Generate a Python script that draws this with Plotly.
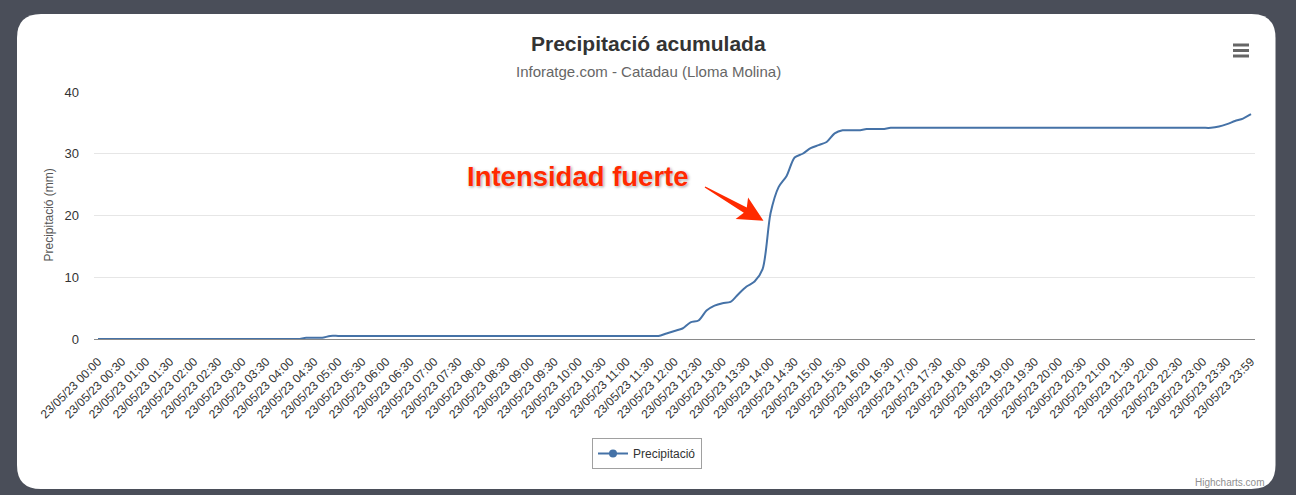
import plotly.graph_objects as go
import math

# ---------------- data ----------------
times = []
for i in range(145):
    h, m = divmod(i * 10, 60)
    times.append("23/05/23 %02d:%02d" % (h, m) if h < 24 else "23/05/23 23:59")
categories = times

precip = (
    [0.0] * 26
    + [0.2, 0.2, 0.2, 0.5]
    + [0.5] * 40
    + [0.5, 0.9, 1.3, 1.7, 2.7, 3.0, 4.6, 5.4, 5.8, 6.0,
       7.3, 8.5, 9.3, 11.3, 20.4, 24.6, 26.4, 29.4, 30.0, 30.9,
       31.4, 31.9, 33.3, 33.8, 33.8, 33.8, 34.0, 34.0, 34.0, 34.2]
    + [34.2] * 40
    + [34.4, 34.8, 35.3, 35.7, 36.4]
)
tick_labels = categories[::3]
y_ticks = [0, 10, 20, 30, 40]

# ---------------- geometry helpers ----------------
W, H = 1296, 495
L, R, T, B = 94, 1255, 92, 339
PW, PH = R - L, B - T


def px(x):
    return (x - L) / PW


def py(y):
    return (B - y) / PH


FONT = "Liberation Sans, Arial, Helvetica, sans-serif"
BLUE = "#4572A7"

fig = go.Figure()
fig.add_trace(go.Scatter(
    x=categories, y=precip, mode="lines",
    line=dict(color=BLUE, width=2, shape="spline", smoothing=0.8),
    showlegend=False, name="Precipitació"))
fig.add_trace(go.Scatter(
    x=[None], y=[None], mode="lines+markers", name="Precipitació",
    line=dict(color=BLUE, width=2), marker=dict(color=BLUE, size=8)))

shapes = []
# rounded white card
cl, cr, ct, cb, rad = 17, 1275.5, 14, 489, 24
pts = [
    ("M", (cl + rad, ct)), ("L", (cr - rad, ct)), ("Q", (cr, ct), (cr, ct + rad)),
    ("L", (cr, cb - rad)), ("Q", (cr, cb), (cr - rad, cb)),
    ("L", (cl + rad, cb)), ("Q", (cl, cb), (cl, cb - rad)),
    ("L", (cl, ct + rad)), ("Q", (cl, ct), (cl + rad, ct)),
]
path = ""
for seg in pts:
    path += seg[0] + " " + " ".join("%.5f,%.5f" % (px(p[0]), py(p[1])) for p in seg[1:]) + " "
path += "Z"
shapes.append(dict(type="path", xref="paper", yref="paper", path=path,
                   fillcolor="white", line=dict(width=0), layer="below"))

# hamburger icon
for yy in (45, 50.5, 56):
    shapes.append(dict(type="line", xref="paper", yref="paper",
                       x0=px(1233), x1=px(1249), y0=py(yy), y1=py(yy),
                       line=dict(color="#666666", width=3)))

# tapered arrow
tail = (705, 187)
tip = (763.5, 220.7)
dx, dy = tip[0] - tail[0], tip[1] - tail[1]
ln = math.hypot(dx, dy)
ux, uy = dx / ln, dy / ln
nx, ny = -uy, ux
base = (tail[0] + ux * (ln - 25), tail[1] + uy * (ln - 25))
join = (base[0] + ux * 4, base[1] + uy * 4)


def off(p, k):
    return (p[0] + nx * k, p[1] + ny * k)


poly = [off(tail, 0.7), off(join, 3), off(base, 12.5), tip,
        off(base, -12.5), off(join, -3), off(tail, -0.7)]
apath = "M " + " L ".join("%.5f,%.5f" % (px(p[0]), py(p[1])) for p in poly) + " Z"
shapes.append(dict(type="path", xref="paper", yref="paper", path=apath,
                   fillcolor="#ff2a00", line=dict(width=0), layer="above"))

annotations = [
    dict(text="Precipitació acumulada", x=px(648), y=py(44), xref="paper", yref="paper",
         showarrow=False, xanchor="center", yanchor="middle",
         font=dict(family=FONT, size=21, color="#333333", weight="bold")),
    dict(text="Inforatge.com - Catadau (Lloma Molina)", x=px(648), y=py(72),
         xref="paper", yref="paper", showarrow=False, xanchor="center", yanchor="middle",
         font=dict(family=FONT, size=15, color="#666666")),
    dict(text="Precipitació (mm)", x=px(48), y=py(215.5), xref="paper", yref="paper",
         showarrow=False, textangle=-90, xanchor="center", yanchor="middle",
         font=dict(family=FONT, size=12, color="#555555")),
    dict(text="Intensidad fuerte", x=px(577.5), y=py(176), xref="paper", yref="paper",
         showarrow=False, xanchor="center", yanchor="middle",
         font=dict(family=FONT, size=27.5, color="#ff2a00", weight="bold",
                   shadow="0px 0px 2px #ffffff, 1px 1px 3px rgba(0,0,0,0.45)")),
    dict(text="Highcharts.com", x=px(1266), y=py(482), xref="paper", yref="paper",
         showarrow=False, xanchor="right", yanchor="middle",
         font=dict(family=FONT, size=10, color="#909090")),
]

fig.update_layout(
    width=W, height=H,
    margin=dict(l=L, r=W - R, t=T, b=H - B, pad=0),
    paper_bgcolor="#4a4e59",
    plot_bgcolor="rgba(0,0,0,0)",
    font=dict(family=FONT, size=12, color="#333333"),
    shapes=shapes,
    annotations=annotations,
    hovermode=False,
    legend=dict(orientation="h", x=px(647), xanchor="center", y=py(438), yanchor="top",
                bordercolor="#a0a0a0", borderwidth=1, bgcolor="white",
                font=dict(family=FONT, size=12, color="#333333")),
    xaxis=dict(type="category", range=[-0.5, 144.5], tickmode="array",
               tickvals=tick_labels, ticktext=tick_labels, tickangle=-45,
               showgrid=False, showline=True, linecolor="#8a8a8a", linewidth=1,
               zeroline=False, ticks="", ticklabelstandoff=10,
               tickfont=dict(family=FONT, size=12, color="#333333")),
    yaxis=dict(range=[0, 40], tickvals=y_ticks, showgrid=True, gridcolor="#e6e6e6",
               gridwidth=1, zeroline=False, showline=False, ticks="",
               ticklabelstandoff=14,
               tickfont=dict(family=FONT, size=13, color="#333333")),
)

fig.write_html("out.html", config={"displayModeBar": False},
               post_script="document.body.style.margin='0px';document.body.style.overflow='hidden';")
